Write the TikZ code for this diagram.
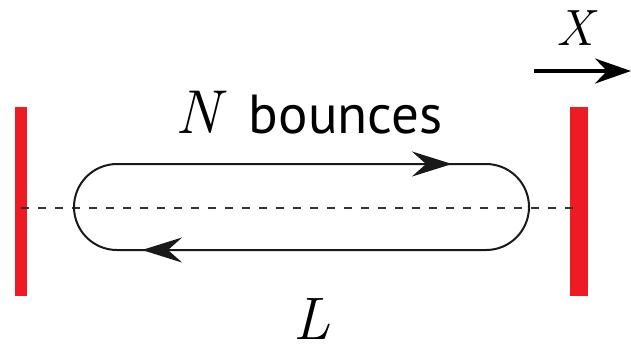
\documentclass[tikz,border=0pt]{standalone}
\usepackage{fontspec}
\setsansfont{PT Sans}
\usetikzlibrary{arrows.meta}
\definecolor{mirrorred}{HTML}{ED1C24}
\tikzset{
    mirror/.style={
        rectangle,
        fill=mirrorred,
        inner sep=0pt,
        minimum height=94.5pt
    },
    cavity axis/.style={
        black!80,
        line width=0.75pt,
        dash pattern=on 4pt off 4.5pt
    },
    bounce path/.style={
        line width=1pt,
        black!90
    },
    bounce tip/.style={
        bounce path,
        -{Stealth[length=20pt,width=12.5pt,inset=7pt]}
    },
    shift arrow/.style={
        line width=2pt,
        -{Stealth[length=18pt,width=12.5pt,inset=6pt]}
    },
    big label/.style={
        inner sep=0pt,
        font=\fontsize{#1}{#1}\selectfont
    }
}
\begin{document}
\begin{tikzpicture}[x=0.5pt,y=-0.5pt]
    \useasboundingbox (0,0) rectangle (631,345);
    \node[mirror, minimum width=6pt] (leftmirror) at (21,201.5) {};
    \node[mirror, minimum width=9pt] (rightmirror) at (579,201.5) {};
    \coordinate (axisleft) at (21,208);
    \coordinate (axisright) at (578,208);
    \draw[cavity axis] (axisleft) -- (axisright);
    \draw[bounce path] (117,164) -- (486,164)
        arc[start angle=90, end angle=-90, radius=21.5pt]
        -- (117,250)
        arc[start angle=270, end angle=90, radius=21.5pt] -- cycle;
    \draw[bounce tip] (400,164) -- (452,164);
    \draw[bounce tip] (200,250) -- (142,250);
    \node[big label=31pt, anchor=base west] (bounces) at (175,133)
        {\textit{N}\hspace{11pt}{\sffamily\fontsize{27.5pt}{27.5pt}\selectfont bounces}};
    \node[big label=25.5pt, anchor=base] (shiftlabel) at (577,45) {\textit{X}};
    \coordinate (shiftstart) at (534,71);
    \coordinate (shiftend) at (631,71);
    \draw[shift arrow] (shiftstart) -- (shiftend);
    \node[big label=30pt, anchor=base] (lengthlabel) at (312,339) {\textit{L}};
\end{tikzpicture}
\end{document}
